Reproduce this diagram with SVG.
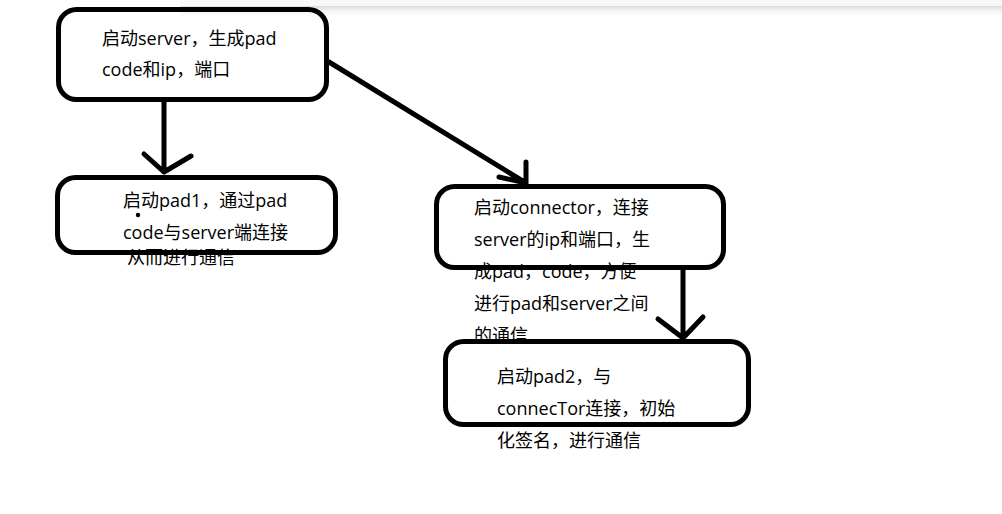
<svg xmlns="http://www.w3.org/2000/svg" width="1002" height="514" viewBox="0 0 1002 514">
<defs>
<linearGradient id="shadow" x1="0" y1="0" x2="0" y2="1">
<stop offset="0" stop-color="#dcdcdc"/>
<stop offset="1" stop-color="#ffffff" stop-opacity="0"/>
</linearGradient>
<style>
.box{fill:none;stroke:#000;stroke-width:5}
.conn{fill:none;stroke:#000;stroke-width:5;stroke-linecap:round;stroke-linejoin:round}
.t{font-family:"Open Sans","Noto Sans CJK SC",sans-serif;font-size:18px;fill:#000}
</style>
</defs>
<rect width="1002" height="514" fill="#fff"/>
<g id="topbar">
<rect x="180" y="6" width="822" height="12" fill="url(#shadow)"/>
<path d="M180,0 H1002 V6 H186 Q180,6 180,0 Z" fill="#f8f8f8"/>
</g>
<g id="node-server">
<text class="t" x="102" y="45">启动server，生成pad</text>
<text class="t" x="102" y="76">code和ip，端口</text>
<rect class="box" x="58.5" y="9.5" width="268" height="90" rx="18"/>
</g>
<g id="node-pad1">
<text class="t" x="123" y="207">启动pad1，通过pad</text>
<text class="t" x="123" y="239">code与server端连接</text>
<text class="t" x="127" y="264">从而进行通信</text>
<circle cx="138" cy="215" r="2.2" fill="#000"/>
<rect class="box" x="57.5" y="177.5" width="278" height="75" rx="18"/>
</g>
<g id="node-connector">
<text class="t" x="474" y="214">启动connector，连接</text>
<text class="t" x="474" y="246">server的ip和端口，生</text>
<text class="t" x="474" y="278">成pad，code，方便</text>
<text class="t" x="474" y="310">进行pad和server之间</text>
<text class="t" x="474" y="342">的通信</text>
<rect class="box" x="436.5" y="186.5" width="287" height="81" rx="18"/>
</g>
<g id="node-pad2">
<text class="t" x="497" y="383">启动pad2，与</text>
<text class="t" x="497" y="415">connecTor连接，初始</text>
<text class="t" x="497" y="447">化签名，进行通信</text>
<rect class="box" x="445.5" y="341.5" width="303" height="83" rx="18"/>
</g>
<g id="connectors">
<path class="conn" d="M164,102 V172 M144,154 L164,172 L191,156"/>
<path class="conn" d="M329,62 L526,183 M526,162 V183 M499,177 L526,183"/>
<path class="conn" d="M683,270 V338 M658,319 L683,338 L703,317"/>
</g>
</svg>
